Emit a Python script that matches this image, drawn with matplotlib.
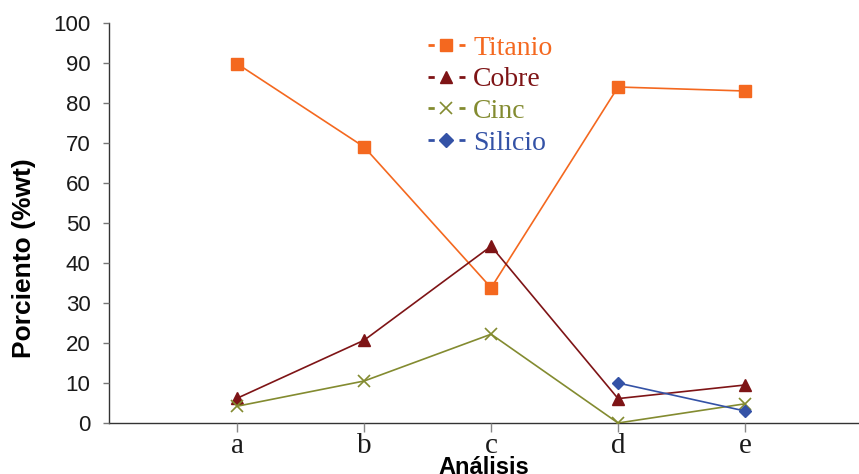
import matplotlib
matplotlib.use("Agg")
import matplotlib.pyplot as plt
from matplotlib.lines import Line2D
import numpy as np

categories = ["a", "b", "c", "d", "e"]
titanio = [89.8, 69.0, 33.8, 84.0, 83.0]
cobre = [6.2, 20.7, 44.2, 6.1, 9.5]
cinc = [4.2, 10.5, 22.2, 0.0, 4.8]
silicio_cats = ["d", "e"]
silicio = [10.0, 3.0]
yticks = [0, 10, 20, 30, 40, 50, 60, 70, 80, 90, 100]

plt.rcParams['lines.scale_dashes'] = False

fig = plt.figure(figsize=(8.59, 4.74), dpi=100)
ax = fig.add_axes([109/859, 1-423/474, (858-109)/859, 400/474])

c_ti = "#F4681F"
c_cu = "#7E1416"
c_zn = "#838B30"
c_si = "#3452A6"

x = np.arange(len(categories))
xs = [categories.index(c) for c in silicio_cats]

ax.plot(x, titanio, color=c_ti, lw=1.2, marker="s", ms=8, mec=c_ti, zorder=3)
ax.plot(x, cobre, color=c_cu, lw=1.2, marker="^", ms=9, mec=c_cu, zorder=3)
ax.plot(x, cinc, color=c_zn, lw=1.2, marker="x", ms=8, mew=1.2, zorder=3)
ax.plot(xs, silicio, color=c_si, lw=1.2, marker="D", ms=6.5, mec=c_si, zorder=4)

ax.set_xlim(-1.01, 4.89)
ax.set_ylim(0, 100)
ax.set_yticks(yticks)
ax.set_xticks(x)
ax.set_xticklabels(categories, fontfamily="Liberation Serif", fontsize=21)
for lab in ax.get_yticklabels():
    lab.set_fontfamily("Liberation Sans")
    lab.set_fontsize(16)

for s in ["top", "right"]:
    ax.spines[s].set_visible(False)
for s in ["left", "bottom"]:
    ax.spines[s].set_color("#333333")
    ax.spines[s].set_linewidth(1.0)
    ax.spines[s].set_zorder(1)

ax.tick_params(axis="y", direction="out", length=4.3, width=1.0, color="#777777", pad=9, labelcolor="#1a1a1a")
ax.tick_params(axis="x", direction="out", length=6.5, width=1.0, color="#888888", pad=0.5, labelcolor="#1a1a1a")

ax.set_ylabel("Porciento (%wt)", fontfamily="Liberation Sans", fontweight="bold", fontsize=19)
ax.yaxis.set_label_coords(-0.0976, 0.4125)
ax.set_xlabel("Análisis", fontfamily="Liberation Sans", fontweight="bold", fontsize=17, labelpad=-2)

dash = (0, (4.5, 17.8))
handles = [
    Line2D([], [], color=c_ti, lw=2.0, linestyle=dash, marker="s", ms=8),
    Line2D([], [], color=c_cu, lw=2.0, linestyle=dash, marker="^", ms=9),
    Line2D([], [], color=c_zn, lw=2.0, linestyle=dash, marker="x", ms=8, mew=1.2),
    Line2D([], [], color=c_si, lw=2.0, linestyle=dash, marker="D", ms=7),
]
labels = ["Titanio", "Cobre", "Cinc", "Silicio"]
leg = ax.legend(handles, labels, loc="upper left", bbox_to_anchor=(428/859, 1-35.5/474),
                bbox_transform=fig.transFigure, frameon=False,
                prop={"family": "Liberation Serif", "size": 20},
                handlelength=1.33, handletextpad=0.29, labelspacing=0.22,
                borderaxespad=0, borderpad=0)
for t, c in zip(leg.get_texts(), [c_ti, c_cu, c_zn, c_si]):
    t.set_color(c)

fig.savefig("out.png", dpi=100)
